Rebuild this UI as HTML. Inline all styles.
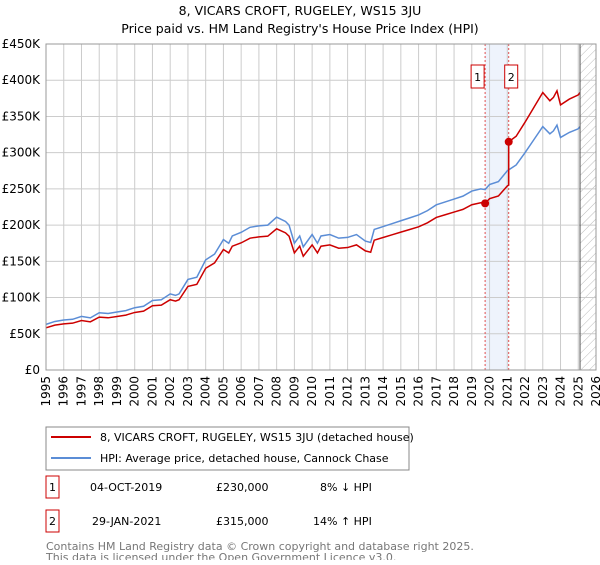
<!DOCTYPE html>
<html><head><meta charset="utf-8"><style>
body{margin:0;background:#fff;font-family:"Liberation Sans","DejaVu Sans",sans-serif;}
svg text{font-family:"DejaVu Sans","Liberation Sans",sans-serif;}
</style></head><body>
<svg id="c" width="600" height="560" viewBox="0 0 600 560">
<defs><pattern id="hatch" width="6" height="6" patternUnits="userSpaceOnUse" patternTransform="rotate(45)"><line x1="0" y1="0" x2="0" y2="6" stroke="#bbb" stroke-width="1"/></pattern></defs>
<text x="300" y="15" text-anchor="middle" font-size="12.5">8, VICARS CROFT, RUGELEY, WS15 3JU</text>
<text x="300" y="33" text-anchor="middle" font-size="12.5">Price paid vs. HM Land Registry's House Price Index (HPI)</text>
<g id="grid"></g><g id="marks"></g><g id="axes"></g>
<rect x="46" y="427" width="363" height="43" fill="#fff" stroke="#888"/>
<line x1="51" y1="437" x2="91" y2="437" stroke="#cc0000" stroke-width="2"/>
<text x="100" y="441" font-size="11">8, VICARS CROFT, RUGELEY, WS15 3JU (detached house)</text>
<line x1="51" y1="458" x2="91" y2="458" stroke="#5b8dd6" stroke-width="2"/>
<text x="100" y="462" font-size="11">HPI: Average price, detached house, Cannock Chase</text>
<g font-size="11">
<rect x="46" y="476" width="13" height="22" fill="#fff" stroke="#cc0000"/><text x="52.5" y="491" text-anchor="middle">1</text>
<text x="90" y="491">04-OCT-2019</text><text x="216" y="491">£230,000</text><text x="320" y="491">8% ↓ HPI</text></g>
<g font-size="11">
<rect x="46" y="510" width="13" height="22" fill="#fff" stroke="#cc0000"/><text x="52.5" y="525" text-anchor="middle">2</text>
<text x="92" y="525">29-JAN-2021</text><text x="216" y="525">£315,000</text><text x="313" y="525">14% ↑ HPI</text></g>
<text x="46" y="550" font-size="11" fill="#777">Contains HM Land Registry data © Crown copyright and database right 2025.</text>
<text x="46" y="561" font-size="11" fill="#777">This data is licensed under the Open Government Licence v3.0.</text>
</svg>
<script>
const hpiYears=[1995,1995.5,1996,1996.5,1997,1997.5,1998,1998.5,1999,1999.5,2000,2000.5,2001,2001.5,2002,2002.3,2002.5,2003,2003.5,2004,2004.5,2005,2005.3,2005.5,2006,2006.5,2007,2007.5,2008,2008.5,2008.7,2009,2009.3,2009.5,2010,2010.3,2010.5,2011,2011.5,2012,2012.5,2013,2013.3,2013.5,2014,2014.5,2015,2015.5,2016,2016.5,2017,2017.5,2018,2018.5,2019,2019.5,2019.75,2020,2020.5,2021,2021.5,2022,2022.5,2023,2023.4,2023.6,2023.8,2024,2024.5,2025,2025.1];
const hpiValues=[63,67,69,70,74,72,79,78,80,82,86,88,96,97,105,103,105,125,128,152,160,180,175,185,190,197,199,200,211,205,200,175,185,170,187,175,185,187,182,183,187,178,176,194,198,202,206,210,214,220,228,232,236,240,247,250,249,256,260,275,283,300,318,336,326,330,338,321,328,333,336];
const saleYears=[2019.75,2021.08];
const salePrices=[230,315];
const yTicks=[0,50,100,150,200,250,300,350,400,450];
const xTicks=[1995,1996,1997,1998,1999,2000,2001,2002,2003,2004,2005,2006,2007,2008,2009,2010,2011,2012,2013,2014,2015,2016,2017,2018,2019,2020,2021,2022,2023,2024,2025,2026];
const X=y=>46+(y-1995)*(550/31), Y=v=>370-v*(326/450);
const NS="http://www.w3.org/2000/svg";
function mk(p,t,a){const e=document.createElementNS(NS,t);for(const k in a)e.setAttribute(k,a[k]);p.appendChild(e);return e;}
const g=document.getElementById('grid'),m=document.getElementById('marks'),ax=document.getElementById('axes');
mk(g,'rect',{x:X(saleYears[0]),y:44,width:X(saleYears[1])-X(saleYears[0]),height:326,fill:'#eef3fc'});
mk(g,'rect',{x:X(2025.1),y:44,width:X(2026)-X(2025.1),height:326,fill:'url(#hatch)'});
yTicks.forEach(v=>{const l=mk(g,'line',{x1:46,x2:596,y1:Y(v),y2:Y(v),stroke:'#ccc'});


const t=mk(ax,'text',{x:40,y:Y(v)+4,'text-anchor':'end','font-size':12});t.textContent=v==0?'£0':'£'+v+'K';

});
xTicks.forEach(yr=>{const l=mk(g,'line',{x1:X(yr),x2:X(yr),y1:44,y2:370,stroke:'#ccc'});


const t=mk(ax,'text',{x:0,y:0,'font-size':12,'text-anchor':'end',transform:`translate(${X(yr)+4},376) rotate(-90)`});t.textContent=yr;

});
mk(ax,'line',{x1:X(2025.1),x2:X(2025.1),y1:44,y2:370,stroke:'#555'});
function interp(yr){for(let i=1;i<hpiYears.length;i++)if(yr<=hpiYears[i]){const f=(yr-hpiYears[i-1])/(hpiYears[i]-hpiYears[i-1]);return hpiValues[i-1]+f*(hpiValues[i]-hpiValues[i-1]);}return hpiValues[hpiValues.length-1];}
// property series: indexed from each sale
const r0=salePrices[0]/interp(saleYears[0]),r1=salePrices[1]/interp(saleYears[1]);
let red=[];hpiYears.forEach((yr,i)=>{if(yr<saleYears[1])red.push([yr,hpiValues[i]*r0]);});
red.push([saleYears[1],interp(saleYears[1])*r0]);red.push([saleYears[1],salePrices[1]]);
hpiYears.forEach((yr,i)=>{if(yr>saleYears[1])red.push([yr,hpiValues[i]*r1]);});
saleYears.forEach((s,i)=>{const l=mk(m,'line',{x1:X(s),x2:X(s),y1:44,y2:370,stroke:'#e05050','stroke-dasharray':'2,2'});


const b=mk(m,'rect',{x:X(s)+(i?-4:-14),y:65,width:13,height:23,fill:'#fff',stroke:'#cc0000'});


const t=mk(m,'text',{x:X(s)+(i?2.5:-7.5),y:81,'text-anchor':'middle','font-size':11});t.textContent=i+1;

});
const hp=mk(m,'polyline',{points:hpiYears.map((yr,i)=>X(yr)+','+Y(hpiValues[i])).join(' '),fill:'none',stroke:'#5b8dd6','stroke-width':1.5});


const rp=mk(m,'polyline',{points:red.map(p=>X(p[0])+','+Y(p[1])).join(' '),fill:'none',stroke:'#cc0000','stroke-width':1.5});


saleYears.forEach((s,i)=>{const c=mk(m,'circle',{cx:X(s),cy:Y(salePrices[i]),r:4,fill:'#cc0000'});

});
mk(ax,'rect',{x:46,y:44,width:550,height:326,fill:'none',stroke:'#999'});
</script>
</body></html>
